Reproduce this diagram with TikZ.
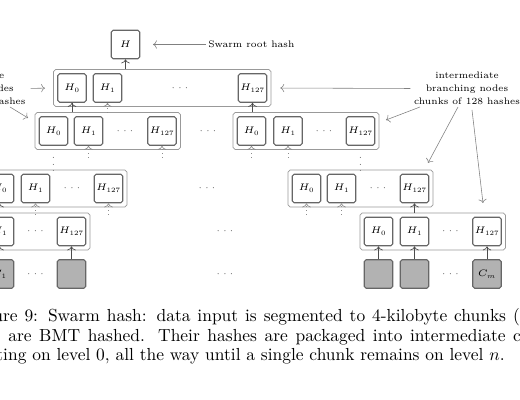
\RequirePackage{fix-cm}
\documentclass[tikz,border=0pt]{standalone}
\usetikzlibrary{fit,arrows.meta}
\begin{document}
\begin{tikzpicture}[x=0.6135pt,y=-0.6135pt,
  figfont/.style={font=\fontsize{5.8}{8}\selectfont},
  hbox/.style={figfont,draw=black!60,line width=0.7pt,rounded corners=1.2pt,minimum size=17.5pt,inner sep=0pt},
  cbox/.style={hbox,fill=black!30},
  grp/.style={draw=black!40,line width=0.5pt,rounded corners=1.2pt,inner sep=2.2pt},
  dts/.style={figfont,text=black!60,inner sep=0pt},
  arr/.style={->,draw=black!70,line width=0.4pt},
  darr/.style={->,draw=black!45,line width=0.4pt,dotted},
  larr/.style={->,draw=black!50,line width=0.35pt},
  lbl/.style={figfont,inner sep=0pt,align=center},
  captxt/.style={font=\fontsize{10.7pt}{13pt}\selectfont,inner sep=0pt}]
\useasboundingbox (0,0) rectangle (520,400);
\clip (0,0) rectangle (520,400);
% root
\node[hbox] (H) at (125.5,44.5) {$H$};
\node[lbl,anchor=west] (root) at (208,44.5) {Swarm root hash};
% row 1
\node[hbox] (a0) at (72,88) {$H_0$};
\node[hbox] (a1) at (107.5,88) {$H_1$};
\node[hbox] (a127) at (252.5,88) {$H_{127}$};
\node[dts] (ad) at (180,88) {$\cdots$};
\node[grp,fit=(a0)(a127)] (g1) {};
% row 2
\node[hbox] (b0) at (53.5,131) {$H_0$};
\node[hbox] (b1) at (88.5,131) {$H_1$};
\node[hbox] (b127) at (162,131) {$H_{127}$};
\node[dts] (bd) at (125,131) {$\cdots$};
\node[grp,fit=(b0)(b127)] (g2L) {};
\node[hbox] (c0) at (251.5,131) {$H_0$};
\node[hbox] (c1) at (288,131) {$H_1$};
\node[hbox] (c127) at (360.5,131) {$H_{127}$};
\node[dts] (cd) at (324,131) {$\cdots$};
\node[grp,fit=(c0)(c127)] (g2R) {};
\node[dts] (m2) at (208,131) {$\cdots$};
\node[dts] (v1) at (53.5,160) {$\vdots$};
\node[dts] (v2) at (360.5,160) {$\vdots$};
% row 3
\node[hbox] (d0) at (-0.5,188.5) {$H_0$};
\node[hbox] (d1) at (35.5,188.5) {$H_1$};
\node[hbox] (d127) at (108.5,188.5) {$H_{127}$};
\node[dts] (dd) at (72,188.5) {$\cdots$};
\node[grp,fit=(d0)(d127)] (g3L) {};
\node[hbox] (e0) at (306.5,188.5) {$H_0$};
\node[hbox] (e1) at (341.5,188.5) {$H_1$};
\node[hbox] (e127) at (414.5,188.5) {$H_{127}$};
\node[dts] (ed) at (378,188.5) {$\cdots$};
\node[grp,fit=(e0)(e127)] (g3R) {};
\node[dts] (m3) at (207,188.5) {$\cdots$};
% row 4
\node[hbox] (f0) at (-36,231.5) {$H_0$};
\node[hbox] (f1) at (-0.5,231.5) {$H_1$};
\node[hbox] (f127) at (71.5,231.5) {$H_{127}$};
\node[dts] (fd) at (35.5,231.5) {$\cdots$};
\node[grp,fit=(f0)(f127)] (g4L) {};
\node[hbox] (k0) at (378.5,231.5) {$H_0$};
\node[hbox] (k1) at (414.5,231.5) {$H_1$};
\node[hbox] (k127) at (487,231.5) {$H_{127}$};
\node[dts] (kd) at (450.5,231.5) {$\cdots$};
\node[grp,fit=(k0)(k127)] (g4R) {};
\node[dts] (m4) at (225,231.5) {$\cdots$};
% row 5 (chunks)
\node[cbox] (p0) at (-36,274) {$C_0$};
\node[cbox] (p1) at (-0.5,274) {$C_1$};
\node[cbox] (p127) at (71.5,274) {};
\node[dts] (pd) at (35.5,274) {$\cdots$};
\node[cbox] (q0) at (378.5,274) {};
\node[cbox] (q1) at (414.5,274) {};
\node[cbox] (qm) at (487,274) {$C_m$};
\node[dts] (qd) at (450.5,274) {$\cdots$};
\node[dts] (m5) at (225,274) {$\cdots$};
% solid connectors
\draw[arr] (H.south |- g1.north) -- (H.south);
\draw[arr] (a0.south |- g2L.north) -- (a0.south);
\draw[arr] (a127.south |- g2R.north) -- (a127.south);
\draw[arr] (d0.south |- g4L.north) -- (d0.south);
\draw[arr] (e127.south |- g4R.north) -- (e127.south);
\foreach \c/\p in {p0/f0,p1/f1,p127/f127,q0/k0,q1/k1,qm/k127}
  \draw[arr] (\c) -- (\p);
% dotted (elided) connectors
\draw[darr] (a1.south |- g2L.north) -- (a1.south);
\foreach \n in {b1,b127,c0,c1,d1,d127,e0,e1}{
  \coordinate (\n x) at ([yshift=-7pt]\n.south);
  \draw[darr] (\n x) -- (\n.south);}
% labels
\coordinate (rootend) at (153,44.5);
\draw[larr,shorten <=1.5pt] (root.west) -- (rootend);
\node[lbl] (lblR) at (467,88.5) {intermediate\\branching nodes\\chunks of 128 hashes};
\node[lbl] (lblL) at (-27.5,88.5) {intermediate\\branching nodes\\chunks of 128 hashes};
\coordinate (r2s) at (420,107); \coordinate (r2e) at (386,120);
\coordinate (r3s) at (458,107); \coordinate (r3e) at (428,163);
\coordinate (r4s) at (472,110); \coordinate (r4e) at (483,203);
\coordinate (l2s) at (10,107); \coordinate (l2e) at (28,118);
\draw[larr,shorten <=2pt,shorten >=5.5pt] (lblR.west) -- (g1.east);
\draw[larr] (r2s) -- (r2e);
\draw[larr] (r3s) -- (r3e);
\draw[larr] (r4s) -- (r4e);
\draw[larr,shorten <=3pt,shorten >=5pt] (lblL.east) -- (g1.west);
\draw[larr] (l2s) -- (l2e);
% caption
\node[captxt,anchor=base west] (cap1) at (-7,322) {\makebox[323pt][s]{ure 9: Swarm hash: data input is segmented to 4-kilobyte chunks (}};
\node[captxt,anchor=base west] (cap2) at (8,341.5) {\makebox[314.5pt][s]{are BMT hashed.  Their hashes are packaged into intermediate c}};
\node[captxt,anchor=base east] (cap3) at (505,361) {ting on level 0, all the way until a single chunk remains on level $n$.};
\end{tikzpicture}
\end{document}
